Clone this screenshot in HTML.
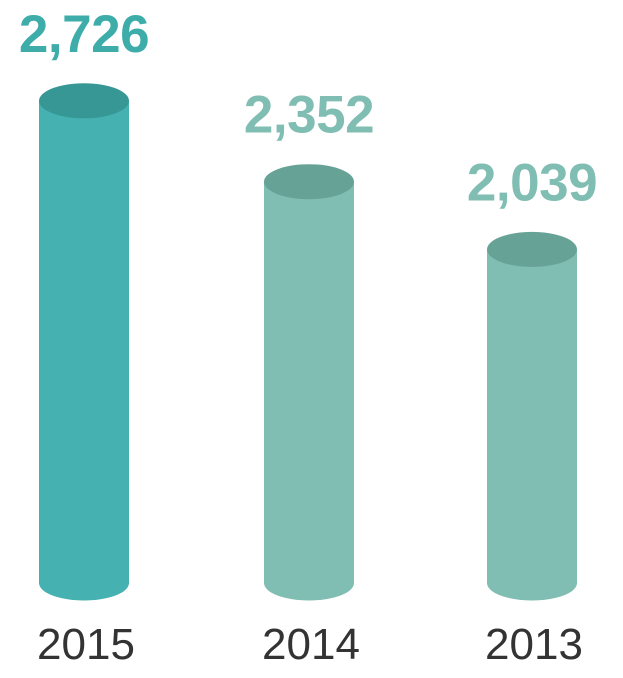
<!DOCTYPE html>
<html><head><meta charset="utf-8"><style>
html,body{margin:0;padding:0;background:#fff;width:623px;height:678px;overflow:hidden}
svg{display:block}
text{font-family:"Liberation Sans",sans-serif}
</style></head><body>
<svg id="chart" width="623" height="678" viewBox="0 0 623 678"></svg>
<script>
const categories = ["2015","2014","2013"];
const values = [2726,2352,2039];
const valueLabels = ["2,726","2,352","2,039"];
const centers = [84,309,532];
const NS = "http://www.w3.org/2000/svg";
const svg = document.getElementById('chart');
// linear y scale fitted to the reference
function yScale(v){ return 177.3 - 0.2163*(v - 2372.3); }
const baseY = 583, halfW = 45, ry = 17.5;
function mk(tag, attrs){ const e=document.createElementNS(NS,tag); for(const k in attrs) e.setAttribute(k,attrs[k]); svg.appendChild(e); return e; }
categories.forEach((c,i)=>{
  const cx = centers[i], top = yScale(values[i]);
  const body = i===0 ? "#45b1b1" : "#80bdb2";
  const cap = i===0 ? "#379795" : "#67a297";
  const lbl = i===0 ? "#3eadaa" : "#80bdb2";
  const b = mk('path',{d:`M${cx-halfW},${top} L${cx-halfW},${baseY} A${halfW},${ry} 0 0 0 ${cx+halfW},${baseY} L${cx+halfW},${top} Z`, fill:body});
  
  
  const e = mk('ellipse',{cx:cx, cy:top, rx:halfW, ry:ry, fill:cap});
  
  
  const t = mk('text',{x:cx, y:top-49, 'text-anchor':'middle', 'font-size':'53', 'font-weight':'bold', fill:lbl, 'letter-spacing':'-0.5'});
  t.textContent = valueLabels[i];
  
  
  const y = mk('text',{x:cx+2, y:659, 'text-anchor':'middle', 'font-size':'44', fill:'#333333'});
  y.textContent = c;
  
  
});
</script>
</body></html>
